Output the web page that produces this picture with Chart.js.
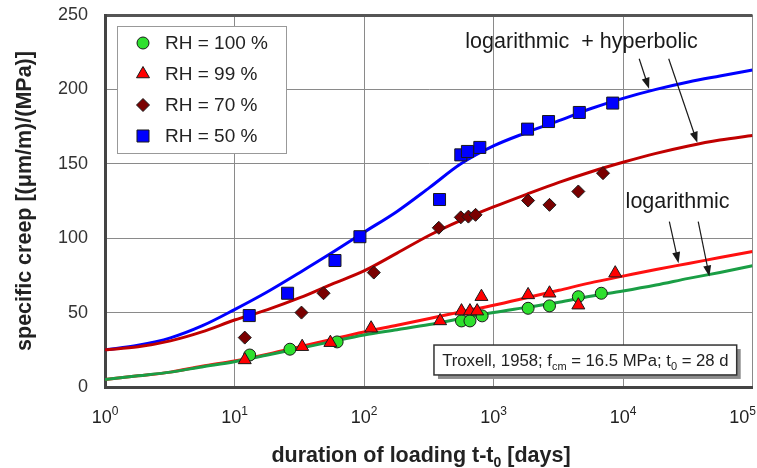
<!DOCTYPE html>
<html lang="en">
<head>
<meta charset="UTF-8">
<title>Specific creep vs duration of loading</title>
<script src="https://cdn.jsdelivr.net/npm/chart.js"></script>
<style>
  html, body { margin: 0; padding: 0; background: #fff; overflow: hidden; }
  #wrap { width: 757px; height: 468px; overflow: hidden; }
</style>
</head>
<body>
<div id="wrap"><canvas id="creepChart" width="762" height="468"></canvas></div>
<script>
// Troxell 1958 measurements (t - t0 in days, specific creep)
const rh100T = [13.1, 26.8, 62, 566, 658, 817, 1850, 2706, 4520, 6800];
const rh100V = [21.5, 25.4, 30.3, 44.4, 44.4, 47.8, 52.9, 54.5, 60.7, 63];
const rh99T = [12, 33.3, 55, 113.5, 387, 566, 658, 748, 807, 1850, 2706, 4520, 8710];
const rh99V = [18.2, 27.1, 29.8, 39.5, 44.4, 51, 51, 51, 60.7, 61.9, 63, 55, 76.5];
const rh70T = [12, 32.9, 48.7, 119, 378, 559, 640, 727, 1850, 2706, 4520, 7010];
const rh70V = [33.2, 50, 63, 76.9, 107, 114, 114.5, 115.7, 125.3, 122.4, 131.4, 143.7];
const rh50T = [13, 25.7, 59.7, 93, 383, 559, 629, 784, 1832, 2660, 4600, 8330];
const rh50V = [48, 63, 85, 101, 126, 156, 158.3, 161, 173.3, 178.4, 184.5, 190.8];

// model curves
const curveT = [1, 1.8, 3.2, 5.6, 10, 18, 32, 56, 100, 180, 320, 560, 1000, 1800, 3200, 5600, 10000, 18000, 32000, 56000, 100000];
const curve50 = [25, 28, 33, 41, 52, 64, 77, 90, 104, 118, 134, 150, 162, 171, 179, 187, 194, 200, 205, 209, 213];
const curve70 = [25, 27, 31, 37, 45, 52, 60, 69, 78, 90, 102, 112, 121, 129.5, 137.5, 144.5, 151, 157, 162, 166, 169];
const curve99 = [5, 7.5, 10, 14, 17.5, 22, 27, 32, 37, 41.5, 46, 50.5, 55, 60, 65, 70, 74.5, 79, 83, 87, 91];
const curve100 = [5, 7.5, 10, 13.5, 17, 21.5, 26, 30.5, 35, 38.5, 42, 46, 50, 53.5, 57, 61, 64.5, 68.5, 73, 77, 81.5];

const xTickValues = [1, 10, 100, 1000, 10000, 100000];
const xTickPowers = ['0', '1', '2', '3', '4', '5'];
const yTickValues = [0, 50, 100, 150, 200, 250];

const FONT = "'Liberation Sans', Arial, sans-serif";

function pts(xs, ys) {
    return xs.map((x, i) => ({ x: x, y: ys[i] }));
}

function scatterSet(label, xs, ys, style, color, r, order) {
    return {
        type: 'scatter', label: label, data: pts(xs, ys),
        pointStyle: style, pointRadius: r, pointHoverRadius: r,
        backgroundColor: color, borderColor: '#1a1a1a', borderWidth: 1,
        order: order
    };
}

function curveSet(ys, color) {
    return {
        type: 'line', data: pts(curveT, ys), borderColor: color, borderWidth: 3,
        pointRadius: 0, fill: false, cubicInterpolationMode: 'monotone', order: 5
    };
}

function marker(ctx, style, x, y, r) {
    ctx.beginPath();
    if (style === 'circle') {
        ctx.arc(x, y, r, 0, Math.PI * 2);
    } else if (style === 'triangle') {
        ctx.moveTo(x, y - r);
        ctx.lineTo(x + r * 0.866, y + r * 0.5);
        ctx.lineTo(x - r * 0.866, y + r * 0.5);
    } else if (style === 'rectRot') {
        ctx.moveTo(x - r, y); ctx.lineTo(x, y - r);
        ctx.lineTo(x + r, y); ctx.lineTo(x, y + r);
    } else {
        const s = r * Math.SQRT1_2;
        ctx.rect(x - s, y - s, 2 * s, 2 * s);
    }
    ctx.closePath();
    ctx.fill();
    ctx.stroke();
}

// text with sub/superscript pieces: [[text, 'n' | 'sub' | 'sup'], ...]
function richText(ctx, parts, x, y, size, weight, align) {
    const small = Math.round(size * 0.65);
    const fontOf = k => weight + ' ' + (k === 'n' ? size : small) + 'px ' + FONT;
    let total = 0;
    parts.forEach(p => { ctx.font = fontOf(p[1]); total += ctx.measureText(p[0]).width; });
    let cx = align === 'center' ? x - total / 2 : (align === 'right' ? x - total : x);
    ctx.textAlign = 'left';
    ctx.textBaseline = 'alphabetic';
    parts.forEach(p => {
        ctx.font = fontOf(p[1]);
        const dy = p[1] === 'sub' ? size * 0.25 : (p[1] === 'sup' ? -size * 0.42 : 0);
        ctx.fillText(p[0], cx, y + dy);
        cx += ctx.measureText(p[0]).width;
    });
    return total;
}

function arrow(ctx, x1, y1, x2, y2) {
    const a = Math.atan2(y2 - y1, x2 - x1);
    const L = 11, W = 4;
    ctx.beginPath();
    ctx.moveTo(x1, y1);
    ctx.lineTo(x2 - Math.cos(a) * L * 0.8, y2 - Math.sin(a) * L * 0.8);
    ctx.stroke();
    ctx.beginPath();
    ctx.moveTo(x2, y2);
    ctx.lineTo(x2 - Math.cos(a) * L + Math.sin(a) * W, y2 - Math.sin(a) * L - Math.cos(a) * W);
    ctx.lineTo(x2 - Math.cos(a) * L - Math.sin(a) * W, y2 - Math.sin(a) * L + Math.cos(a) * W);
    ctx.closePath();
    ctx.fill();
}

const decorPlugin = {
    id: 'decor',
    afterDraw(chart) {
        const ctx = chart.ctx;
        const xs = chart.scales.x, ys = chart.scales.y;
        const area = chart.chartArea;
        const visRight = 757;
        ctx.save();
        ctx.fillStyle = '#222';

        // x tick labels 10^n
        xTickValues.forEach((v, i) => {
            const px = xs.getPixelForValue(v);
            ctx.font = '18px ' + FONT;
            let w = ctx.measureText('10').width;
            ctx.font = '12px ' + FONT;
            w += ctx.measureText(xTickPowers[i]).width;
            let left = px - w / 2;
            if (left + w > visRight - 1) left = visRight - 1 - w;
            richText(ctx, [['10', 'n'], [xTickPowers[i], 'sup']], left, area.bottom + 36, 18, 'normal', 'left');
        });

        // x axis title
        richText(ctx, [['duration of loading t-t', 'n'], ['0', 'sub'], [' [days]', 'n']],
            area.left + 316, area.bottom + 75, 21.5, 'bold', 'center');

        // legend box
        const lx = area.left + 12, ly = area.top + 11, lw = 169, lh = 127;
        ctx.fillStyle = '#fff';
        ctx.fillRect(lx, ly, lw, lh);
        ctx.strokeStyle = '#999';
        ctx.lineWidth = 1;
        ctx.strokeRect(lx + 0.5, ly + 0.5, lw, lh);
        chart.data.datasets.filter(d => d.type === 'scatter').forEach((d, i) => {
            const my = ly + 17 + i * 31;
            ctx.fillStyle = d.backgroundColor;
            ctx.strokeStyle = '#1a1a1a';
            ctx.lineWidth = 1;
            marker(ctx, d.pointStyle, lx + 26, my, d.pointRadius);
            ctx.fillStyle = '#222';
            ctx.font = '19px ' + FONT;
            ctx.textAlign = 'left';
            ctx.textBaseline = 'middle';
            ctx.fillText(d.label, lx + 48, my + 1);
        });

        // curve annotations
        ctx.fillStyle = '#1a1a1a';
        ctx.strokeStyle = '#1a1a1a';
        ctx.lineWidth = 1.2;
        ctx.font = '21.5px ' + FONT;
        ctx.textAlign = 'center';
        ctx.textBaseline = 'middle';
        ctx.fillText('logarithmic  + hyperbolic', xs.getPixelForValue(4786), ys.getPixelForValue(232));
        ctx.fillText('logarithmic', xs.getPixelForValue(26400), ys.getPixelForValue(124));
        const ar = (t1, v1, t2, v2) => arrow(ctx, xs.getPixelForValue(t1), ys.getPixelForValue(v1),
            xs.getPixelForValue(t2), ys.getPixelForValue(v2));
        ar(13335, 220.6, 15890, 200.4);
        ar(22540, 220.6, 37500, 164.1);
        ar(22800, 111.2, 26850, 83.2);
        ar(38100, 111.2, 46450, 74.2);

        // source box
        const bx1 = xs.getPixelForValue(347), bx2 = xs.getPixelForValue(75500);
        const by1 = ys.getPixelForValue(28.2), by2 = ys.getPixelForValue(8.1);
        ctx.fillStyle = '#8c8c8c';
        ctx.fillRect(bx1 + 4, by1 + 4, bx2 - bx1, by2 - by1);
        ctx.fillStyle = '#fff';
        ctx.fillRect(bx1, by1, bx2 - bx1, by2 - by1);
        ctx.strokeStyle = '#333';
        ctx.lineWidth = 1.5;
        ctx.strokeRect(bx1, by1, bx2 - bx1, by2 - by1);
        ctx.fillStyle = '#222';
        richText(ctx, [['Troxell, 1958; f', 'n'], ['cm', 'sub'], [' = 16.5 MPa; t', 'n'], ['0', 'sub'], [' = 28 d', 'n']],
            (bx1 + bx2) / 2, (by1 + by2) / 2 + 6, 16.7, 'normal', 'center');
        ctx.restore();
    }
};

const ctx = document.getElementById('creepChart').getContext('2d');
new Chart(ctx, {
    data: {
        datasets: [
            scatterSet('RH = 100 %', rh100T, rh100V, 'circle', '#2ee02e', 6, 2),
            scatterSet('RH = 99 %', rh99T, rh99V, 'triangle', '#ff0000', 7.5, 1),
            scatterSet('RH = 70 %', rh70T, rh70V, 'rectRot', '#7a0000', 6.5, 3),
            scatterSet('RH = 50 %', rh50T, rh50V, 'rect', '#0000ff', 8.5, 3),
            curveSet(curve100, '#1a9e45'),
            curveSet(curve99, '#ff1010'),
            curveSet(curve70, '#c00000'),
            curveSet(curve50, '#0000ff')
        ]
    },
    options: {
        responsive: false,
        animation: false,
        layout: { padding: { top: 15, right: 1, left: 0, bottom: 0 } },
        plugins: { legend: { display: false }, tooltip: { enabled: false } },
        scales: {
            x: {
                type: 'logarithmic', min: 1, max: 100000,
                afterBuildTicks: s => { s.ticks = xTickValues.map(v => ({ value: v })); },
                afterFit: s => { s.height = 81; s.paddingLeft = 0; s.paddingRight = 0; },
                ticks: { display: false },
                grid: { color: '#8a8a8a', lineWidth: 1, drawTicks: false },
                border: { color: '#444', width: 3 }
            },
            y: {
                min: 0, max: 250,
                afterBuildTicks: s => { s.ticks = yTickValues.map(v => ({ value: v })); },
                afterFit: s => { s.width = 105; s.paddingTop = 0; s.paddingBottom = 0; },
                ticks: { font: { family: FONT, size: 18 }, color: '#333', padding: 17 },
                grid: {
                    color: c => (c.tick && c.tick.value === 250 ? '#555' : '#8a8a8a'),
                    lineWidth: c => (c.tick && c.tick.value === 250 ? 3 : 1),
                    drawTicks: false
                },
                border: { color: '#444', width: 3 },
                title: {
                    display: true, text: 'specific creep [(μm/m)/(MPa)]', color: '#222',
                    font: { family: FONT, size: 21.5, weight: 'bold' }, padding: { top: 12, bottom: 0 }
                }
            }
        }
    },
    plugins: [decorPlugin]
});
</script>
</body>
</html>
